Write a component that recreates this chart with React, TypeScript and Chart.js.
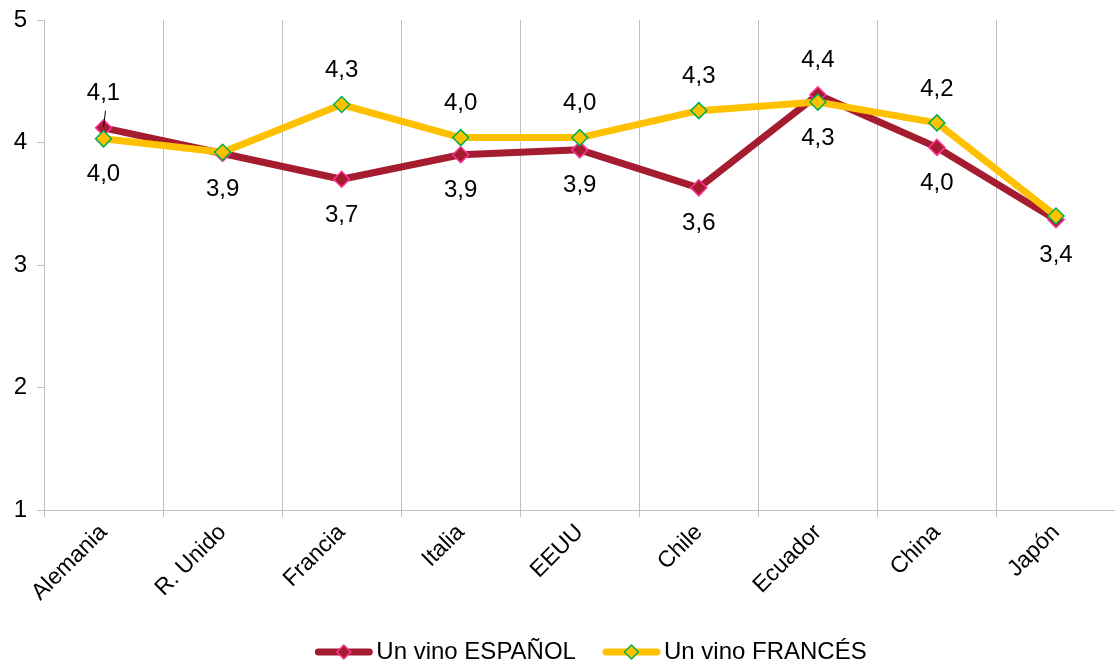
import React, { useEffect, useRef } from 'react';
import { Chart, registerables } from 'chart.js';

Chart.register(...registerables);

const categories = ['Alemania', 'R. Unido', 'Francia', 'Italia', 'EEUU', 'Chile', 'Ecuador', 'China', 'Japón'];
const espanol = [4.12, 3.91, 3.7, 3.9, 3.94, 3.63, 4.39, 3.96, 3.37];
const frances = [4.03, 3.92, 4.31, 4.04, 4.04, 4.26, 4.33, 4.16, 3.4];
const espLabelPos = ['above', 'below', 'below', 'below', 'below', 'below', 'above', 'below', 'below'];
const frLabelPos = ['below', null, 'above', 'above', 'above', 'above', 'below', 'above', null];
const espLeader = [true, false, false, false, false, false, false, false, false];
const seriesNames = ['Un vino ESPAÑOL', 'Un vino FRANCÉS'];
const yMin = 1;
const yMax = 5;

const FONT = "'Liberation Sans', Arial, Helvetica, sans-serif";
const ESP_COLOR = '#A51C30';
const ESP_BORDER = '#FF3399';
const FR_COLOR = '#FFC000';
const FR_BORDER = '#00B050';
const GRID = '#BFBFBF';

const labelPlugin = {
  id: 'dataLabels',
  afterDatasetsDraw(chart: any) {
    const ctx = chart.ctx;
    ctx.save();
    ctx.font = `24px ${FONT}`;
    ctx.fillStyle = '#000';
    ctx.textAlign = 'center';
    ctx.textBaseline = 'middle';
    chart.data.datasets.forEach((ds: any, di: number) => {
      const meta = chart.getDatasetMeta(di);
      meta.data.forEach((pt: any, i: number) => {
        const p = ds.labelPos[i];
        if (!p) return;
        const y = p === 'above' ? pt.y - 34 : pt.y + 36;
        const txt = Number(ds.data[i]).toFixed(1).replace('.', ',');
        ctx.fillText(txt, pt.x, y);
        if (ds.leader && ds.leader[i]) {
          ctx.strokeStyle = '#000';
          ctx.lineWidth = 1;
          ctx.beginPath();
          ctx.moveTo(pt.x + 2, y + 17);
          ctx.lineTo(pt.x, pt.y - 1);
          ctx.stroke();
        }
      });
    });
    ctx.restore();
  },
};

function drawDiamond(ctx: CanvasRenderingContext2D, x: number, y: number, r: number, fill: string, stroke: string) {
  ctx.beginPath();
  ctx.moveTo(x, y - r);
  ctx.lineTo(x + r, y);
  ctx.lineTo(x, y + r);
  ctx.lineTo(x - r, y);
  ctx.closePath();
  ctx.fillStyle = fill;
  ctx.fill();
  ctx.strokeStyle = stroke;
  ctx.lineWidth = 1.5;
  ctx.stroke();
}

const legendPlugin = {
  id: 'customLegend',
  afterDraw(chart: any) {
    const ctx = chart.ctx;
    const items = [
      { text: seriesNames[0], line: ESP_COLOR, fill: ESP_COLOR, border: ESP_BORDER },
      { text: seriesNames[1], line: FR_COLOR, fill: FR_COLOR, border: FR_BORDER },
    ];
    ctx.save();
    ctx.font = `24px ${FONT}`;
    const lineW = 57;
    const gap = 4;
    const itemGap = 27;
    const widths = items.map((it) => lineW + gap + ctx.measureText(it.text).width);
    const total = widths.reduce((a, b) => a + b, 0) + itemGap * (items.length - 1);
    const center = 591;
    let x = center - total / 2;
    const y = 652;
    items.forEach((it, i) => {
      ctx.strokeStyle = it.line;
      ctx.lineWidth = 7;
      ctx.lineCap = 'round';
      ctx.beginPath();
      ctx.moveTo(x + 3, y);
      ctx.lineTo(x + lineW - 3, y);
      ctx.stroke();
      drawDiamond(ctx, x + lineW / 2, y, 7, it.fill, it.border);
      ctx.fillStyle = '#000';
      ctx.textAlign = 'left';
      ctx.textBaseline = 'middle';
      ctx.fillText(it.text, x + lineW + gap, y);
      x += widths[i] + itemGap;
    });
    ctx.restore();
  },
};

export default function App() {
  const canvasRef = useRef<HTMLCanvasElement | null>(null);

  useEffect(() => {
    if (!canvasRef.current) return;
    const chart = new Chart(canvasRef.current, {
      type: 'line',
      data: {
        labels: categories,
        datasets: [
          {
            label: seriesNames[0],
            data: espanol,
            borderColor: ESP_COLOR,
            backgroundColor: ESP_COLOR,
            borderWidth: 7,
            borderJoinStyle: 'round',
            borderCapStyle: 'round',
            pointStyle: 'rectRot',
            pointRadius: 8,
            pointBackgroundColor: ESP_COLOR,
            pointBorderColor: ESP_BORDER,
            pointBorderWidth: 1.5,
            tension: 0,
            order: 2,
            labelPos: espLabelPos,
            leader: espLeader,
          } as any,
          {
            label: seriesNames[1],
            data: frances,
            borderColor: FR_COLOR,
            backgroundColor: FR_COLOR,
            borderWidth: 7,
            borderJoinStyle: 'round',
            borderCapStyle: 'round',
            pointStyle: 'rectRot',
            pointRadius: 8,
            pointBackgroundColor: FR_COLOR,
            pointBorderColor: FR_BORDER,
            pointBorderWidth: 1.5,
            tension: 0,
            order: 1,
            labelPos: frLabelPos,
          } as any,
        ],
      },
      options: {
        animation: false,
        responsive: false,
        maintainAspectRatio: false,
        layout: { padding: { top: 20, left: 0, right: 0, bottom: 0 } },
        plugins: {
          legend: { display: false },
          tooltip: { enabled: false },
        },
        scales: {
          x: {
            offset: true,
            grid: {
              offset: true,
              display: true,
              color: GRID,
              lineWidth: 1,
              drawTicks: true,
              tickLength: 7,
            },
            border: { display: true, color: GRID },
            ticks: {
              minRotation: 45,
              maxRotation: 45,
              autoSkip: false,
              color: '#000',
              padding: 2,
              font: { size: 23, family: FONT },
            },
            afterFit: (s: any) => {
              s.height = 154;
              s.paddingLeft = 0;
              s.paddingRight = 0;
            },
          },
          y: {
            min: yMin,
            max: yMax,
            grid: { drawOnChartArea: false, drawTicks: true, tickLength: 7, color: GRID },
            border: { display: true, color: GRID },
            ticks: {
              stepSize: 1,
              color: '#000',
              padding: 10,
              font: { size: 24, family: FONT },
            },
            afterFit: (s: any) => {
              s.width = 44;
              s.paddingTop = 0;
              s.paddingBottom = 0;
            },
          },
        },
      } as any,
      plugins: [labelPlugin, legendPlugin],
    });
    return () => chart.destroy();
  }, []);

  return (
    <div style={{ position: 'absolute', left: 0, top: 0, width: 1115, height: 664, overflow: 'hidden', background: '#fff' }}>
      <canvas ref={canvasRef} width={1125} height={664} style={{ width: 1125, height: 664, display: 'block' }} />
    </div>
  );
}
